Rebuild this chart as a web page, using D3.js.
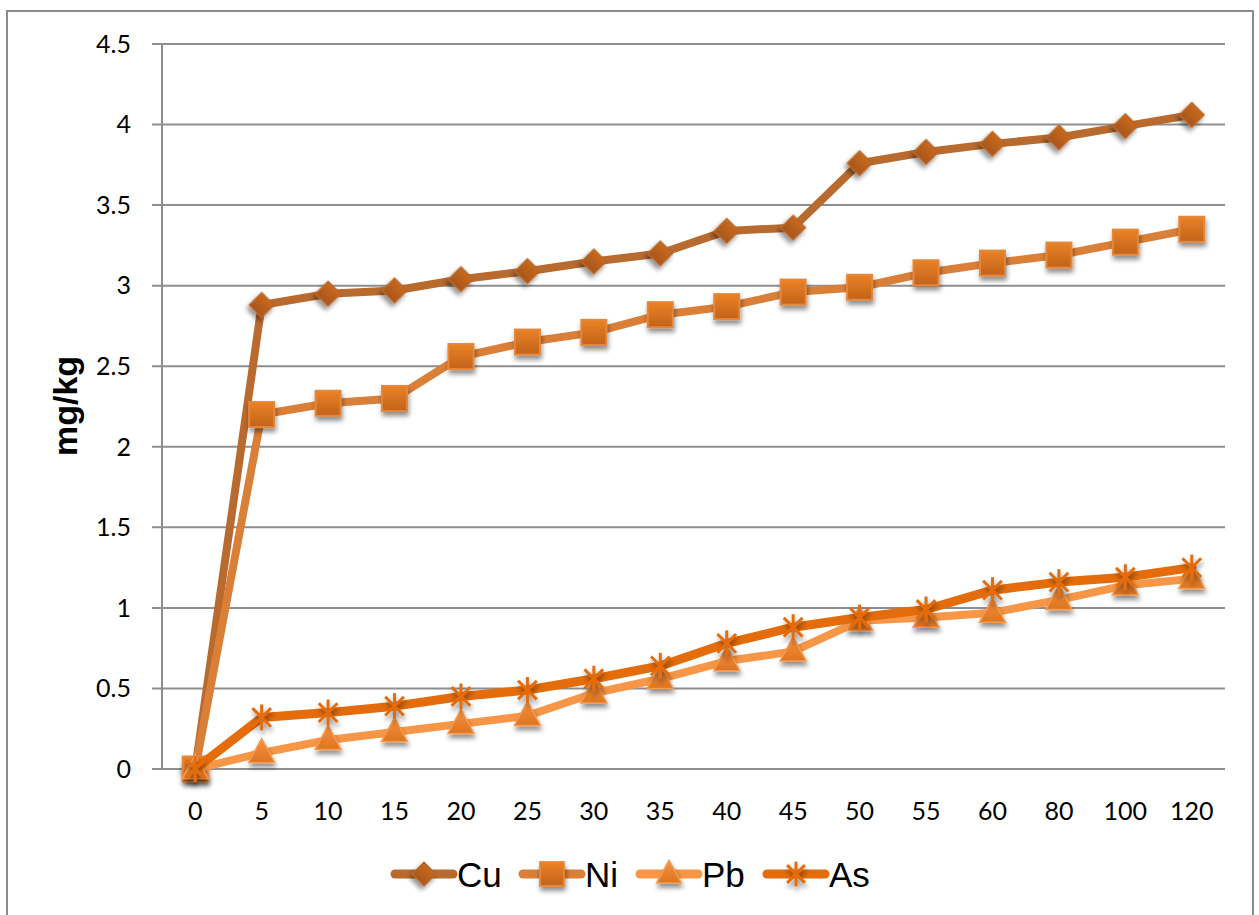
<!DOCTYPE html>
<html><head><meta charset="utf-8">
<script src="https://cdn.jsdelivr.net/npm/d3@7"></script>
<style>body{margin:0;background:#fff}svg{display:block}</style>
</head><body>
<svg id="c" width="1259" height="915"></svg>
<script>
const categories = ["0","5","10","15","20","25","30","35","40","45","50","55","60","80","100","120"];
const cu = [0,2.88,2.95,2.97,3.04,3.09,3.15,3.20,3.34,3.36,3.76,3.83,3.88,3.92,3.99,4.06];
const ni = [0,2.20,2.27,2.30,2.56,2.65,2.71,2.82,2.87,2.96,2.99,3.08,3.14,3.19,3.27,3.35];
const pb = [0,0.10,0.18,0.23,0.28,0.33,0.47,0.56,0.67,0.73,0.92,0.94,0.97,1.05,1.14,1.18];
const as = [0,0.32,0.35,0.39,0.45,0.49,0.56,0.64,0.78,0.88,0.94,0.99,1.11,1.16,1.19,1.25];
const yTicks = [0,0.5,1,1.5,2,2.5,3,3.5,4,4.5];
const seriesNames = ["Cu","Ni","Pb","As"];

(function(){
const series = [
  {name:"Cu", values:cu, line:"#B96A2E", marker:"diamond", top:"#C8691C", bot:"#A8561A", edge:"#B8662A"},
  {name:"Ni", values:ni, line:"#DA7F38", marker:"square", top:"#EA8226", bot:"#C2621A", edge:"#E5873A"},
  {name:"Pb", values:pb, line:"#F79646", marker:"triangle", top:"#F59140", bot:"#DE7420", edge:"#F59A4E"},
  {name:"As", values:as, line:"#E46C0A", marker:"star", top:"#E46C0A", bot:"#E46C0A", edge:"#E46C0A"}
];

const svg = d3.select("#c");
const defs = svg.append("defs");
const f = defs.append("filter").attr("id","sh").attr("x","-50%").attr("y","-50%").attr("width","200%").attr("height","200%");
f.append("feGaussianBlur").attr("in","SourceAlpha").attr("stdDeviation",2.5).attr("result","b");
f.append("feOffset").attr("in","b").attr("dx",1).attr("dy",4).attr("result","o");
f.append("feComponentTransfer").attr("in","o").attr("result","o2").append("feFuncA").attr("type","linear").attr("slope",0.45);
const fm = f.append("feMerge"); fm.append("feMergeNode").attr("in","o2"); fm.append("feMergeNode").attr("in","SourceGraphic");
series.forEach((s,i)=>{
  const g = defs.append("linearGradient").attr("id","g"+i).attr("x1",0).attr("y1",0).attr("x2",0).attr("y2",1);
  g.append("stop").attr("offset","0%").attr("stop-color",s.top);
  g.append("stop").attr("offset","100%").attr("stop-color",s.bot);
});

svg.append("rect").attr("x",7).attr("y",11).attr("width",1246).attr("height",915)
  .attr("fill","none").attr("stroke","#8c8c8c").attr("stroke-width",2);

const pL=162, pR=1225, pT=44, pB=769;
const x = d3.scaleBand().domain(categories).range([pL,pR]);
const xc = d => x(d)+x.bandwidth()/2;
const y = d3.scaleLinear().domain([0,4.5]).range([pB,pT]);

svg.append("g").selectAll("line").data(yTicks).join("line")
  .attr("x1",pL-10).attr("x2",pR).attr("y1",d=>y(d)).attr("y2",d=>y(d))
  .attr("stroke","#8e8e8e").attr("stroke-width",2);
svg.append("line").attr("x1",pL).attr("x2",pL).attr("y1",pT).attr("y2",pB)
  .attr("stroke","#8e8e8e").attr("stroke-width",2);

const font = "Lato, 'Open Sans', sans-serif";
svg.append("g").selectAll("text").data(yTicks).join("text")
  .attr("x",131).attr("y",d=>y(d)).attr("dy","0.35em").attr("text-anchor","end")
  .attr("font-family",font).attr("font-size",25).attr("fill","#000")
  .text(d=>d3.format("")(d));
svg.append("g").selectAll("text").data(categories).join("text")
  .attr("x",d=>xc(d)).attr("y",820).attr("text-anchor","middle")
  .attr("font-family",font).attr("font-size",25).attr("fill","#000").text(d=>d);

svg.append("text").attr("transform","translate(77,406) rotate(-90)").attr("text-anchor","middle")
  .attr("font-family","'Liberation Sans', Arial, sans-serif").attr("font-weight","bold").attr("font-size",34)
  .text("mg/kg");

function marker(g, s, i, cx, cy, sc){
  sc = sc||1;
  if(s.marker==="diamond"){
    g.append("path").attr("d",d3.symbol(d3.symbolSquare, 300*sc*sc)()).attr("transform",`translate(${cx},${cy}) rotate(45)`)
      .attr("fill",`url(#g${i})`).attr("stroke",s.edge).attr("stroke-width",1.5).attr("filter","url(#sh)");
  } else if(s.marker==="square"){
    const h=12.5*sc;
    g.append("rect").attr("x",cx-h).attr("y",cy-h).attr("width",2*h).attr("height",2*h)
      .attr("fill",`url(#g${i})`).attr("stroke",s.edge).attr("stroke-width",2).attr("filter","url(#sh)");
  } else if(s.marker==="triangle"){
    const w=13*sc, h=24*sc;
    g.append("path").attr("d",`M${cx},${cy-h*0.6}L${cx+w},${cy+h*0.4}L${cx-w},${cy+h*0.4}Z`)
      .attr("fill",`url(#g${i})`).attr("stroke",s.edge).attr("stroke-width",1.5).attr("filter","url(#sh)");
  } else {
    const r=13*sc, gg=g.append("g").attr("filter","url(#sh)").attr("stroke",s.edge).attr("stroke-width",3);
    gg.append("line").attr("x1",cx).attr("x2",cx).attr("y1",cy-r).attr("y2",cy+r);
    const d=r*0.72;
    gg.append("line").attr("x1",cx-d).attr("x2",cx+d).attr("y1",cy-d).attr("y2",cy+d);
    gg.append("line").attr("x1",cx-d).attr("x2",cx+d).attr("y1",cy+d).attr("y2",cy-d);
  }
}

const line = d3.line().x((d,i)=>xc(categories[i])).y(d=>y(d));
series.forEach((s,i)=>{
  const g = svg.append("g");
  g.append("path").attr("d",line(s.values)).attr("fill","none").attr("stroke",s.line)
    .attr("stroke-width",s.name==="As"?9:8).attr("stroke-linejoin","round").attr("stroke-linecap","round");
  s.values.forEach((v,j)=>marker(g,s,i,xc(categories[j]),y(v)));
});

const lx = [395,523,640,767];
series.forEach((s,i)=>{
  const g = svg.append("g");
  g.append("line").attr("x1",lx[i]).attr("x2",lx[i]+58).attr("y1",874).attr("y2",874)
    .attr("stroke",s.line).attr("stroke-width",9).attr("stroke-linecap","round");
  marker(g,s,i,lx[i]+29,874,0.95);
  g.append("text").attr("x",lx[i]+62).attr("y",874).attr("dy","0.36em")
    .attr("font-family","'Liberation Sans', Arial, sans-serif").attr("font-size",35).text(seriesNames[i]);
});
})();
</script>
</body></html>
